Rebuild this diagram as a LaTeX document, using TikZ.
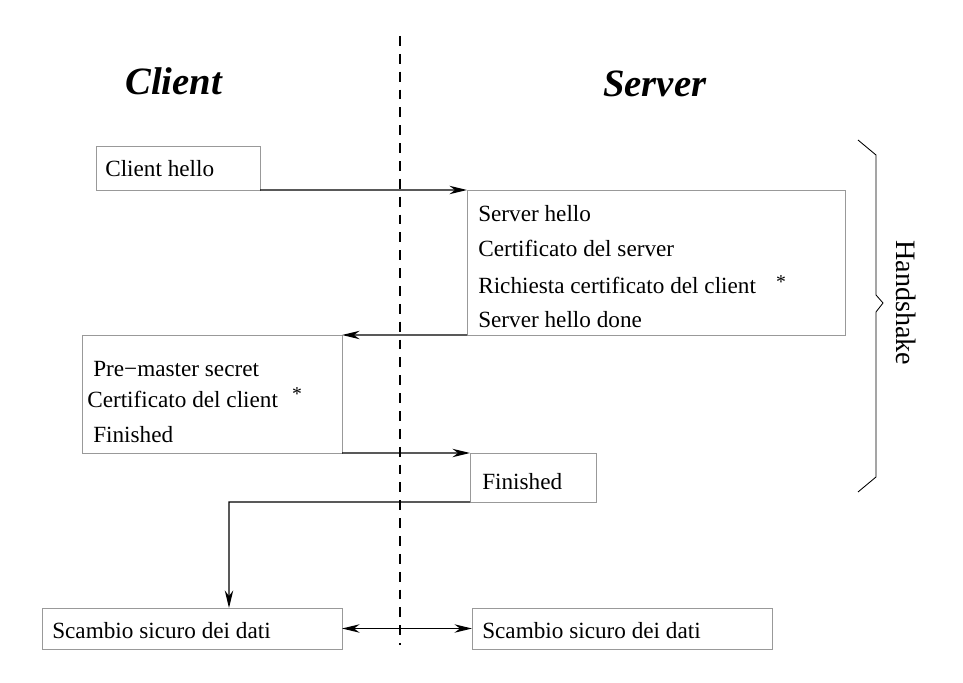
\documentclass[tikz,border=0pt]{standalone}
\usepackage{fontspec}
\setmainfont{Liberation Serif}
\usepackage{tikz}
\usetikzlibrary{arrows.meta,positioning,calc}

\tikzset{
  box/.style={draw=gray!80, line width=0.6pt, anchor=north west, inner sep=0pt, outer sep=0pt},
  msg/.style={anchor=base west, inner sep=0pt, font=\fontsize{16.5}{18}\selectfont},
  star/.style={inner sep=0pt, font=\fontsize{14}{15}\selectfont},
  side/.style={anchor=base west, inner sep=0pt, font=\fontsize{27.5}{30}\selectfont\bfseries\itshape},
  flow/.style={line width=0.9pt, -{Stealth[length=12.5pt,width=6pt,inset=4pt]}},
  both/.style={line width=0.9pt, {Stealth[length=12.5pt,width=6pt,inset=4pt]}-{Stealth[length=12.5pt,width=6pt,inset=4pt]}},
}

\begin{document}
\begin{tikzpicture}[x=0.025cm, y=-0.025cm]
    \useasboundingbox (0,0) rectangle (963,683);

    % titles
    \node [side] (cli) at (125,95) {Client};
    \node [side] (srv) at (603,97) {Server};

    % boxes
    \node [box, minimum width=4.1cm, minimum height=1.1cm] (chello) at (96,146) {};
    \node [box, minimum width=9.45cm, minimum height=3.625cm] (shello) at (467,190) {};
    \node [box, minimum width=6.5cm, minimum height=2.95cm] (ckey) at (82,335) {};
    \node [box, minimum width=3.15cm, minimum height=1.225cm] (sfin) at (470,453) {};
    \node [box, minimum width=7.5cm, minimum height=1.025cm] (cdata) at (42,608) {};
    \node [box, minimum width=7.5cm, minimum height=1.025cm] (sdata) at (472,608) {};

    % texts
    \node [msg] (t1) at (105,177) {Client hello};
    \node [msg] (t2) at (478,222) {Server hello};
    \node [msg] (t3) at (478,257) {Certificato del server};
    \node [msg] (t4) at (478,293) {Richiesta certificato del client};
    \node [star] (s1) at (781,282) {*};
    \node [msg] (t5) at (478,327) {Server hello done};
    \node [msg] (t6) at (93,376) {Pre−master secret};
    \node [msg] (t7) at (87,407) {Certificato del client};
    \node [star] (s2) at (297,394) {*};
    \node [msg] (t8) at (93,442) {Finished};
    \node [msg] (t9) at (482,489) {Finished};
    \node [msg] (t10) at (52,638) {Scambio sicuro dei dati};
    \node [msg] (t11) at (482,638) {Scambio sicuro dei dati};

    % divider
    \coordinate (top) at (400,36);
    \coordinate (bot) at (400,645);
    \draw [line width=1.4pt, dash pattern=on 7pt off 5.7pt] (top) -- (bot);

    % messages
    \draw [flow] (chello.south east) -- (shello.north west);
    \draw [flow] (shello.south west) -- (ckey.north east);
    \draw [flow] (ckey.south east) -- (sfin.north west);
    \coordinate (turn) at (229,502);
    \draw [flow] (sfin.south west) -- (turn) -- (turn |- cdata.north);
    \draw [both] (cdata.east) -- (sdata.west);

    % brace
    \draw [line width=0.6pt] (858,140) -- (876,155) -- (876,295) -- (883,303)
        -- (876,312) -- (876,477) -- (858,492);
    \node [rotate=-90, font=\fontsize{20}{22}\selectfont] (hs) at (906,303) {Handshake};
\end{tikzpicture}
\end{document}
